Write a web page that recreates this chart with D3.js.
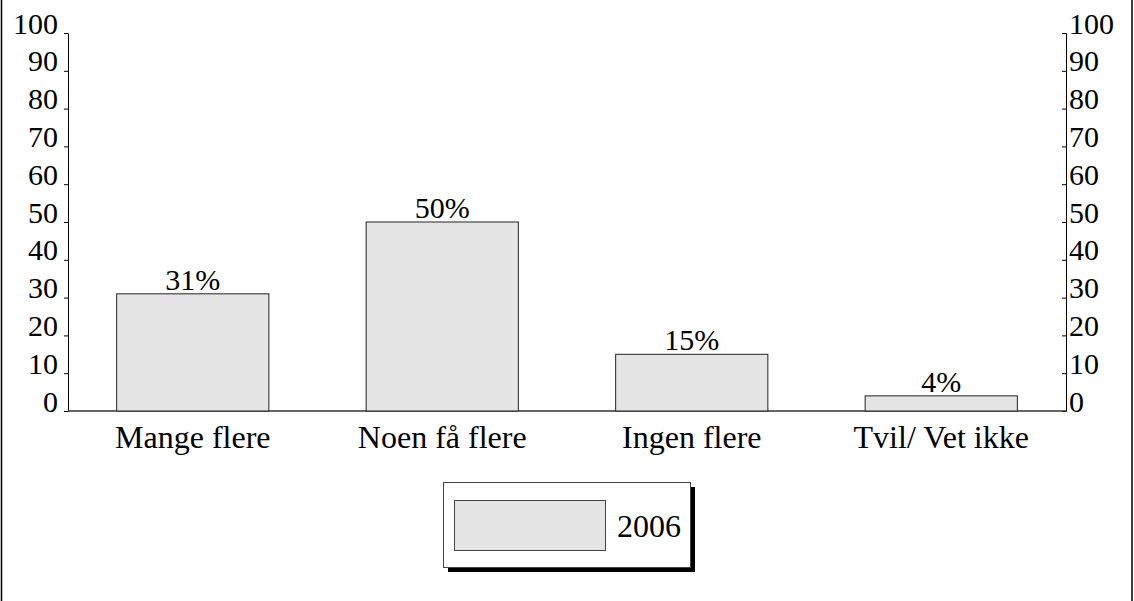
<html>
<head>
<meta charset="utf-8">
<script src="https://d3js.org/d3.v7.min.js"></script>
<style>
  body { margin: 0; background: #fff; }
  text { font-family: "Liberation Serif", "Times New Roman", serif; fill: #000; }
</style>
</head>
<body>
<svg id="chart" width="1134" height="601"></svg>
<script>
const categories = ["Mange flere", "Noen få flere", "Ingen flere", "Tvil/ Vet ikke"];
const values2006 = [31, 50, 15, 4];
const yTicks = [0, 10, 20, 30, 40, 50, 60, 70, 80, 90, 100];
const seriesName = "2006";

const svg = d3.select("svg#chart");
const width = +svg.attr("width");
const height = +svg.attr("height");
const margin = { top: 33, right: 68, bottom: 190, left: 68 };

// outer frame (left and right edges)
svg.append("line").attr("x1", 1.5).attr("x2", 1.5).attr("y1", 0).attr("y2", height)
   .attr("stroke", "#000").attr("stroke-width", 1.5);
svg.append("line").attr("x1", width - 2).attr("x2", width - 2).attr("y1", 0).attr("y2", height)
   .attr("stroke", "#000").attr("stroke-width", 1.5);

const x = d3.scaleBand().domain(categories)
            .range([margin.left, width - margin.right])
            .paddingInner(0.39).paddingOuter(0.195);
const y = d3.scaleLinear().domain([0, 100]).range([height - margin.bottom, margin.top]);

// left axis
const leftAxis = svg.append("g").attr("transform", `translate(${margin.left},0)`)
    .call(d3.axisLeft(y).tickValues(yTicks).tickSize(4).tickPadding(6));
// right axis, ticks also pointing left
const rightAxis = svg.append("g").attr("transform", `translate(${width - margin.right},0)`)
    .call(d3.axisLeft(y).tickValues(yTicks).tickSize(4).tickPadding(6));
rightAxis.selectAll("text").attr("text-anchor", "start").attr("x", 3);

[leftAxis, rightAxis].forEach(a => {
  a.select(".domain").attr("stroke", "#000").attr("stroke-width", 1);
  a.selectAll(".tick line").attr("stroke", "#000");
  a.selectAll("text").style("font-size", "30px")
   .style("font-family", "'Liberation Serif', serif").attr("dy", "0");
});

// baseline
svg.append("line")
   .attr("x1", margin.left).attr("x2", width - margin.right)
   .attr("y1", y(0)).attr("y2", y(0))
   .attr("stroke", "#333").attr("stroke-width", 1.5);

// bars
svg.selectAll("rect.bar").data(values2006)
   .join("rect")
   .attr("class", "bar")
   .attr("x", (d, i) => x(categories[i]))
   .attr("y", d => y(d))
   .attr("width", x.bandwidth())
   .attr("height", d => y(0) - y(d))
   .attr("fill", "#e5e5e5")
   .attr("stroke", "#222")
   .attr("stroke-width", 1);

// value labels
svg.selectAll("text.val").data(values2006)
   .join("text")
   .attr("class", "val")
   .attr("x", (d, i) => x(categories[i]) + x.bandwidth() / 2)
   .attr("y", d => y(d) - 4)
   .attr("text-anchor", "middle")
   .style("font-size", "30px")
   .text(d => d + "%");

// category labels
svg.selectAll("text.cat").data(categories)
   .join("text")
   .attr("class", "cat")
   .attr("x", d => x(d) + x.bandwidth() / 2)
   .attr("y", y(0) + 37)
   .attr("text-anchor", "middle")
   .style("font-size", "32px")
   .text(d => d);

// legend
const lg = svg.append("g").attr("transform", "translate(443,482)");
lg.append("rect").attr("x", 5).attr("y", 5).attr("width", 247).attr("height", 85).attr("fill", "#000");
lg.append("rect").attr("x", 0.5).attr("y", 0.5).attr("width", 247).attr("height", 85)
  .attr("fill", "#fff").attr("stroke", "#444").attr("stroke-width", 1);
lg.append("rect").attr("x", 11.5).attr("y", 18.5).attr("width", 151).attr("height", 50)
  .attr("fill", "#e5e5e5").attr("stroke", "#444").attr("stroke-width", 1);
lg.append("text").attr("x", 174).attr("y", 55)
  .style("font-size", "32px").text(seriesName);
</script>
</body>
</html>
